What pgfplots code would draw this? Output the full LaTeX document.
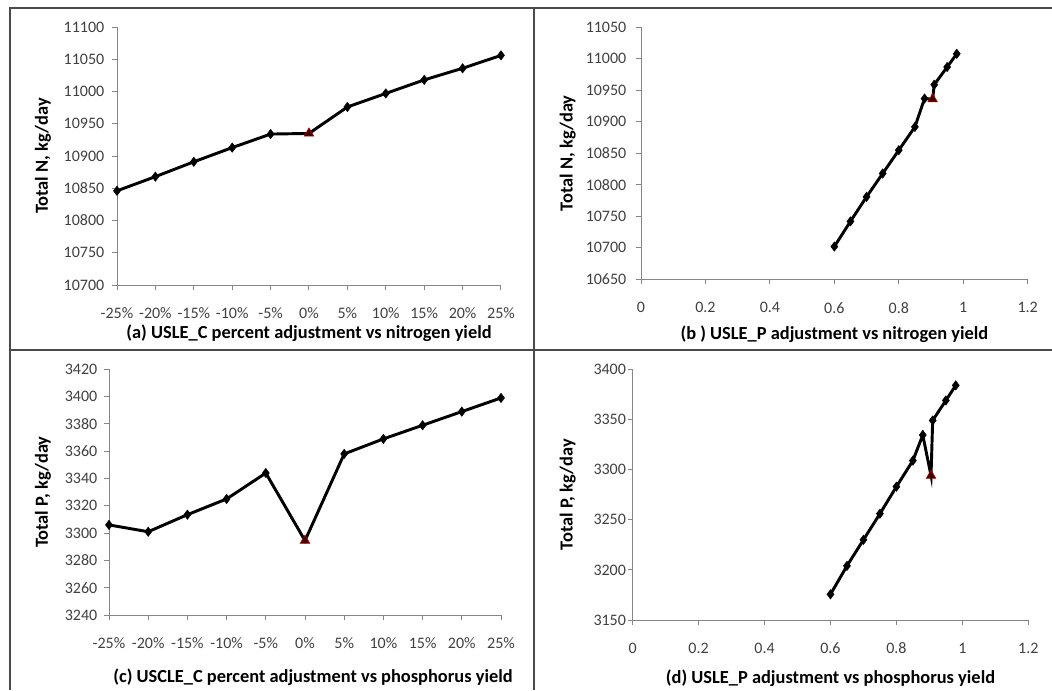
\documentclass[border=0pt]{standalone}
\usepackage{pgfplots}
\pgfplotsset{compat=1.18}
\usepackage{pgfplotstable}
\usepackage{fontspec}
\setmainfont{Carlito}

\definecolor{axisgray}{HTML}{868686}
\definecolor{ticktext}{HTML}{404040}
\definecolor{framegray}{HTML}{4A4A4A}
\definecolor{basefill}{HTML}{3C0000}
\definecolor{baseedge}{HTML}{C00000}

% USLE_C percent adjustment -> total N
\pgfplotstableread{
x   y      c
-25 10846  d
-20 10868  d
-15 10891  d
-10 10913  d
-5  10934  d
0   10935  t
5   10976  d
10  10997  d
15  11018  d
20  11036  d
25  11056  d
}\dataA

% USLE_P adjustment -> total N
\pgfplotstableread{
x     y      c
0.60  10702  d
0.65  10742  d
0.70  10781  d
0.75  10818  d
0.80  10855  d
0.85  10892  d
0.88  10937  d
0.905 10936  t
0.91  10959  d
0.95  10987  d
0.98  11008  d
}\dataB

% USLE_C percent adjustment -> total P
\pgfplotstableread{
x   y       c
-25 3306    d
-20 3301    d
-15 3313.5  d
-10 3325    d
-5  3344    d
0   3294.5  t
5   3358    d
10  3369    d
15  3379    d
20  3389    d
25  3399    d
}\dataC

% USLE_P adjustment -> total P
\pgfplotstableread{
x     y       c
0.60  3175.6  d
0.65  3204    d
0.70  3230    d
0.75  3256    d
0.80  3283    d
0.85  3309    d
0.88  3334.5  d
0.905 3294    t
0.91  3349    d
0.95  3369    d
0.98  3384    d
}\dataD

\pgfplotsset{
  panel/.style={
    scale only axis,
    anchor=south west,
    axis x line*=bottom,
    axis y line*=left,
    axis line style={axisgray, line width=0.75pt},
    tick style={axisgray, line width=0.75pt},
    tick align=outside,
    major tick length=3.75pt,
    tick label style={font=\fontsize{12}{14}\selectfont, text=ticktext},
    xticklabel style={yshift=-10pt},
    scaled y ticks=false,
    yticklabel={\pgfmathprintnumber[fixed, precision=0, 1000 sep={}]{\tick}},
    /pgf/number format/assume math mode=true,
    /pgf/number format/1000 sep={},
    clip=false,
  },
  pctaxis/.style={
    xmin=-25, xmax=25,
    xtick={-25,-20,...,25},
    xticklabels={-25\%,-20\%,-15\%,-10\%,-5\%,0\%,5\%,10\%,15\%,20\%,25\%},
  },
  fracaxis/.style={
    xmin=0, xmax=1.2,
    xtick={0,0.2,...,1.2},
    xticklabel={\pgfmathprintnumber[fixed, precision=1]{\tick}},
  },
  xtitle/.style 2 args={every axis x label/.style={at={(axis description cs:0.5,0)},
    anchor=center, yshift=-#1, xshift=#2, font=\bfseries\fontsize{13.8}{16}\selectfont}},
  ytitle/.style={every axis y label/.style={at={(axis description cs:0,0.5)},
    xshift=-#1, rotate=90, anchor=center, font=\bfseries\fontsize{13.8}{16}\selectfont}},
  series/.style={black, line width=2.2pt,
    scatter, scatter src=explicit symbolic,
    mark options={solid, line width=0.4pt},
    scatter/classes={
      d={mark=diamond*, mark size=3.5pt, draw=black, fill=black},
      t={mark=triangle*, mark size=4.2pt, draw=baseedge, fill=basefill}}},
}

\begin{document}
\begin{tikzpicture}
\path[use as bounding box] (0,0) rectangle (789pt,-517.5pt);

% panel frame
\draw[framegray, line width=1.5pt] (7.5pt,-517.5pt) -- (7.5pt,-6pt) -- (789pt,-6pt);
\draw[framegray, line width=1.5pt] (400.5pt,-6pt) -- (400.5pt,-517.5pt);
\draw[framegray, line width=1.5pt] (7.5pt,-262.5pt) -- (789pt,-262.5pt);

% (a)
\begin{axis}[panel, pctaxis,
  at={(87.75pt,-213.75pt)}, width=288pt, height=193.5pt,
  ymin=10700, ymax=11100, ytick distance=50,
  yticklabel style={xshift=-2.25pt},
  xtitle={36pt}{0pt}, ytitle=55.5pt,
  xlabel={(a) USLE\_C percent adjustment vs nitrogen yield},
  ylabel={Total N, kg/day}]
\addplot[series] table[x=x, y=y, meta=c] {\dataA};
\end{axis}

% (b)
\begin{axis}[panel, fracaxis,
  at={(480.75pt,-209.5pt)}, width=290pt, height=189pt,
  ymin=10650, ymax=11050, ytick distance=50,
  yticklabel style={xshift=-3.75pt},
  xtitle={41pt}{0pt}, ytitle=55pt,
  xlabel={(b ) USLE\_P adjustment vs nitrogen yield},
  ylabel={Total N, kg/day}]
\addplot[series] table[x=x, y=y, meta=c] {\dataB};
\end{axis}

% (c)
\begin{axis}[panel, pctaxis,
  at={(81.75pt,-461.25pt)}, width=294pt, height=184.3pt,
  ymin=3240, ymax=3420, ytick distance=20,
  yticklabel style={xshift=-1.5pt},
  xtitle={46.5pt}{6pt}, ytitle=49.5pt,
  xlabel={(c) USCLE\_C percent adjustment vs phosphorus  yield},
  ylabel={Total P, kg/day}]
\addplot[series] table[x=x, y=y, meta=c] {\dataC};
\end{axis}

% (d)
\begin{axis}[panel, fracaxis,
  at={(474.5pt,-465pt)}, width=296.7pt, height=188pt,
  ymin=3150, ymax=3400, ytick distance=50,
  yticklabel style={xshift=2.25pt},
  xtitle={43.7pt}{0pt}, ytitle=48.75pt,
  xlabel={(d) USLE\_P adjustment vs phosphorus  yield},
  ylabel={Total P, kg/day}]
\addplot[series] table[x=x, y=y, meta=c] {\dataD};
\end{axis}
\end{tikzpicture}
\end{document}
